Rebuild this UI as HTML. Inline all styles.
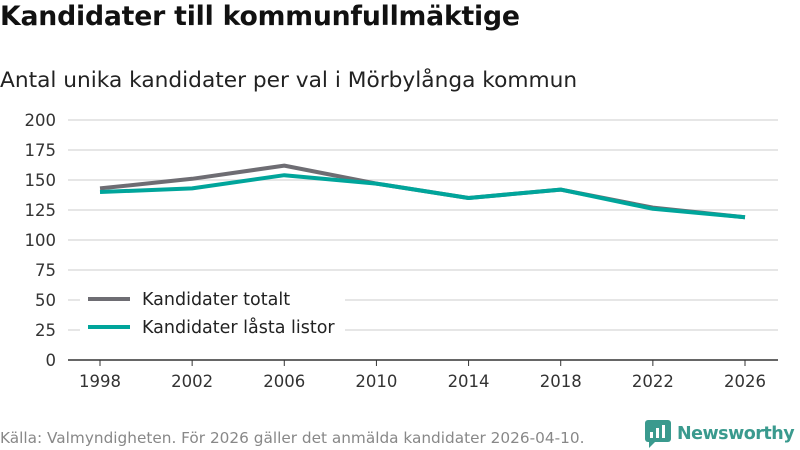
<!DOCTYPE html>
<html><head><meta charset="utf-8"><style>
body{margin:0;width:800px;height:450px;background:#fff;font-family:"DejaVu Sans","Liberation Sans",sans-serif;overflow:hidden;position:relative}
.t{position:absolute;left:0;top:1px;font-size:26.7px;font-weight:bold;color:#111;letter-spacing:-0.2px}
.s{position:absolute;left:0;top:68px;font-size:21.7px;color:#222}
.f{position:absolute;left:0;top:429px;font-size:15.3px;color:#888}
.logo{position:absolute;left:645px;top:420px;font-size:17.5px;font-weight:bold;color:#3a9a8e;display:flex;align-items:center;gap:6px;letter-spacing:-0.5px}
</style></head><body>
<div class="t">Kandidater till kommunfullmäktige</div>
<div class="s">Antal unika kandidater per val i Mörbylånga kommun</div>
<svg id="c" width="800" height="450" style="position:absolute;left:0;top:0"></svg>
<div class="f">Källa: Valmyndigheten. För 2026 gäller det anmälda kandidater 2026-04-10.</div>
<div class="logo"><svg width="26" height="28"><rect x="0" y="0" width="26" height="22" rx="3" fill="#3a9a8e"/><path d="M4 22 L4 28 L10 22Z" fill="#3a9a8e"/><rect x="5" y="12" width="3" height="6" fill="#fff"/><rect x="11" y="8" width="3" height="10" fill="#fff"/><rect x="17" y="5" width="3" height="13" fill="#fff"/></svg>Newsworthy</div>
<script>
const years=[1998,2002,2006,2010,2014,2018,2022,2026];
const totalt=[143,151,162,147,135,142,127,119];
const lasta=[140,143,154,147,135,142,126,119];
const yTicks=[0,25,50,75,100,125,150,175,200];
const svg=document.getElementById('c');const NS='http://www.w3.org/2000/svg';
const x=v=>100+(v-1998)*(645/28);const y=v=>360-v*1.2;
function mk(t,a){const e=document.createElementNS(NS,t);for(const k in a)e.setAttribute(k,a[k]);svg.appendChild(e);return e;}
yTicks.forEach(t=>{
const l=mk('line',{x1:68,x2:778,y1:y(t),y2:y(t),stroke:t?'#ddd':'#333','stroke-width':1.5});


const tx=mk('text',{x:56,y:y(t)+6,'text-anchor':'end','font-size':16.5,fill:'#333'});tx.textContent=t;


});
years.forEach(v=>{
const l=mk('line',{x1:x(v),x2:x(v),y1:360,y2:366,stroke:'#333'});


const tx=mk('text',{x:x(v),y:387,'text-anchor':'middle','font-size':16.5,fill:'#333'});tx.textContent=v;


});
function line(d,c,n){const p=mk('polyline',{points:d.map((v,i)=>x(years[i])+','+y(v)).join(' '),fill:'none',stroke:c,'stroke-width':4,'stroke-linejoin':'round'});

}
line(totalt,'#6e6d73','series-totalt');
line(lasta,'#00a59b','series-lasta-listor');
mk('rect',{x:80,y:285,width:265,height:60,fill:'#fff'});
[['#6e6d73','Kandidater totalt',299],['#00a59b','Kandidater låsta listor',327]].forEach(([c,t,yy])=>{
const l=mk('line',{x1:88,x2:130,y1:yy,y2:yy,stroke:c,'stroke-width':4});


const tx=mk('text',{x:142,y:yy+6,'font-size':17.5,fill:'#222'});tx.textContent=t;


});
</script>
</body></html>
